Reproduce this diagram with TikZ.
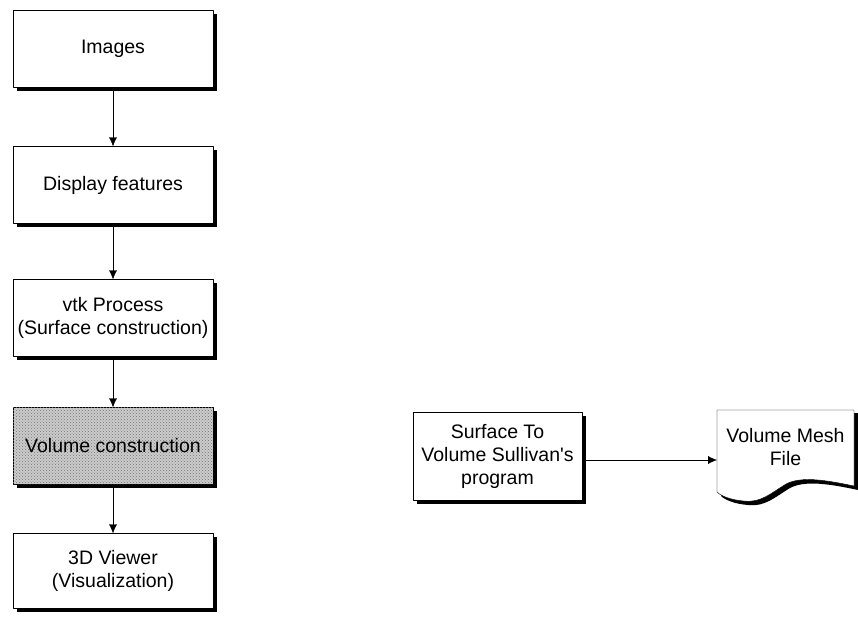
\documentclass[tikz,border=0pt]{standalone}
\usepackage{fontspec}
\setmainfont{Liberation Sans}
\usepackage{tikz}
\usetikzlibrary{calc, shadows, patterns, arrows.meta}

\begin{document}
\begin{tikzpicture}[x=1pt, y=1pt, font=\fontsize{19.5}{23}\selectfont, line join=round,
    stepbox/.style={draw, thin, fill=white, minimum width=200pt, minimum height=77pt,
        align=center, inner sep=2pt,
        drop shadow={shadow xshift=4pt, shadow yshift=-3.5pt, fill=black, opacity=1}},
    flow/.style={-{Latex[length=9pt, width=8pt]}, thin}]

    \useasboundingbox (0,0) rectangle (858,-616);

    % ==========================================
    % LEFT COLUMN: PROCESSING CHAIN
    % ==========================================

    \node[stepbox] (images) at (113,-49) {Images};
    \node[stepbox] (display) at (113,-185) {Display features};
    \node[stepbox] (vtk) at (113,-318) {vtk Process\\(Surface construction)};
    \node[stepbox, fill=black!20,
        postaction={pattern=crosshatch dots, pattern color=black!55}] (volume) at (113,-446)
        {Volume construction};
    \node[stepbox, minimum height=75pt] (viewer) at (113,-571) {3D Viewer\\(Visualization)};

    \draw[flow] (images) -- (display);
    \draw[flow] (display) -- (vtk);
    \draw[flow] (vtk) -- (volume);
    \draw[flow] (volume) -- (viewer);

    % ==========================================
    % RIGHT: SULLIVAN PROGRAM AND MESH FILE
    % ==========================================

    \node[stepbox, minimum width=169pt, minimum height=88pt] (sullivan) at (497.5,-456)
        {Surface To\\Volume Sullivan\textquotesingle s\\program};

    % Document shape with wavy bottom edge
    \coordinate (docTL) at (717,-410);
    \coordinate (docTR) at (854,-410);
    \fill[black] ($(docTL)+(4,-3)$) -- ($(docTR)+(4,-3)$) -- (858,-490)
        .. controls (830,-484) and (805,-480) .. (790,-488)
        .. controls (775,-497) and (765,-507) .. (748,-505)
        .. controls (735,-504) and (725,-500) .. (721,-496) -- cycle;
    \draw[thin, fill=white] (docTL) -- (docTR) -- (854,-486)
        .. controls (826,-480) and (801,-476) .. (786,-484)
        .. controls (771,-493) and (761,-503) .. (744,-501)
        .. controls (731,-500) and (721,-496) .. (717,-492) -- cycle;
    \node[align=center] (mesh) at (785.5,-447) {Volume Mesh\\File};
    \coordinate (meshIn) at (717,-460);

    \draw[flow] (sullivan.east |- meshIn) -- (meshIn);

\end{tikzpicture}
\end{document}
